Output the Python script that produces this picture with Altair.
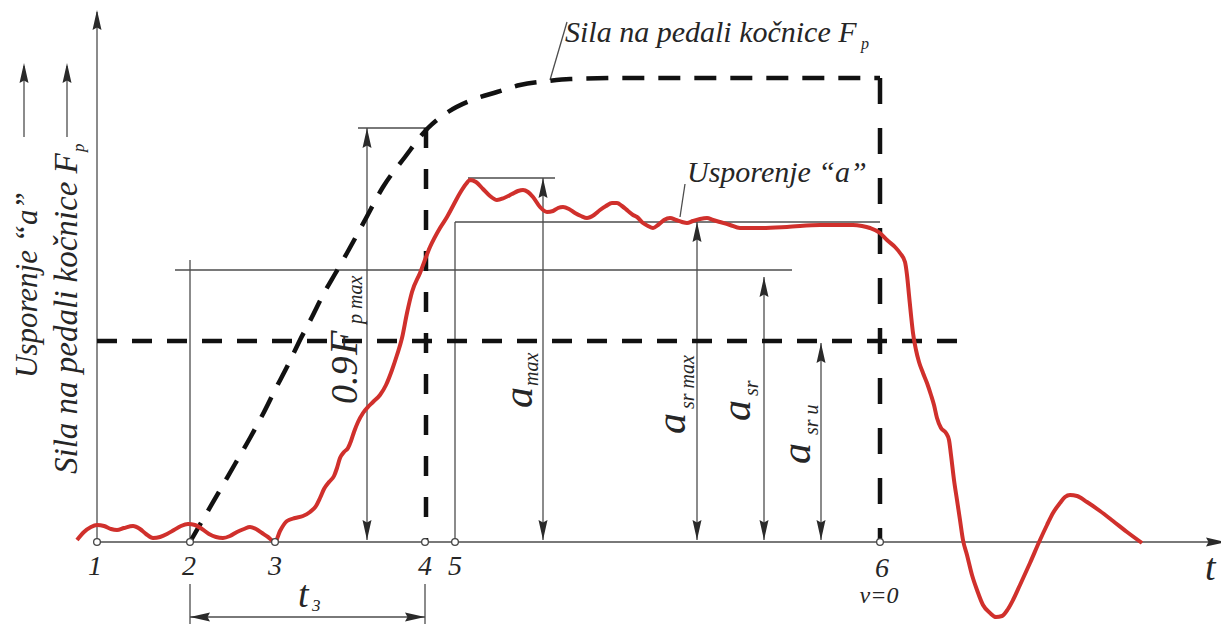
import altair as alt
import pandas as pd

# Figure frame (positions; y grows downward)
X_DOMAIN = [8, 1221]
Y_DOMAIN = [8, 624]

# ---- red curve: deceleration "a" ----
red_x = [77, 84, 91, 97, 104, 111, 117, 124, 133, 140, 146, 153, 160, 167, 174, 181, 188, 195, 202, 209,
         216, 223, 230, 237, 244, 250, 256, 262, 268, 275,
         280, 287, 295, 303, 310, 316, 320, 324, 329, 334, 337, 340, 344, 348, 351, 354, 358, 363, 368, 373,
         380, 386, 392, 397, 402, 407, 412, 420, 430, 440, 447, 454, 460, 466, 470,
         476, 483, 490, 497, 504, 512, 518, 523, 528, 533, 540, 547, 553, 558, 563, 569, 575, 581, 587, 594,
         600, 606, 612, 617, 622, 628, 633, 637, 643, 648, 653, 658, 664, 670, 676, 682, 687, 693, 700, 707,
         713, 720, 730, 740, 760, 787, 820, 853, 862, 870, 880, 887, 895, 900,
         905, 907, 909, 911, 913, 916, 919, 923, 927, 931, 934, 937, 941, 946, 949, 951, 954, 957, 960, 963,
         967, 972, 977, 983, 990, 996, 1002, 1008, 1013, 1020, 1030, 1040, 1047, 1053, 1060, 1065, 1070, 1077,
         1087, 1100, 1113, 1127, 1142]
red_y = [540, 532, 527, 525, 526, 529, 530, 528, 526, 529, 534, 538, 537, 534, 530, 526, 524, 525, 529, 534,
         537, 538, 536, 532, 529, 527, 529, 533, 537, 542,
         531, 521, 518, 516, 512, 506, 498, 489, 482, 476, 468, 458, 452, 448, 441, 432, 422, 413, 407, 402,
         395, 385, 370, 355, 338, 313, 292, 273, 247, 228, 217, 204, 193, 184, 180,
         182, 189, 196, 200, 198, 194, 191, 190, 192, 197, 207, 212, 211, 208, 207, 209, 213, 216, 218, 215,
         210, 206, 203, 203, 206, 211, 215, 217, 223, 226, 228, 225, 220, 218, 220, 222, 223, 221, 219, 218,
         220, 222, 225, 228, 228, 227, 225, 225, 226, 228, 233, 240, 247, 253,
         262, 275, 295, 315, 333, 350, 362, 373, 383, 395, 405, 418, 428, 433, 440, 455, 480, 500, 520, 540,
         555, 575, 590, 605, 613, 617, 616, 609, 600, 585, 563, 540, 525, 513, 503, 497, 495, 496,
         502, 511, 521, 532, 543]

# ---- dashed curve: pedal force Fp ----
fp_x = [190, 205, 220, 235, 250, 263, 275, 288, 300, 312, 323, 335, 347, 365, 383, 405, 428,
        448, 472, 497, 520, 548, 570, 620, 700, 800, 880]
fp_y = [542, 516, 490, 464, 438, 414, 390, 365, 340, 317, 295, 274, 253, 220, 187, 157, 128,
        112, 100, 92, 85, 81, 79, 78, 78, 78, 78]

# dashed straight lines: x1, y1, x2, y2
dash_h = [97, 341, 960, 341]          # horizontal dashed level
dash_v4 = [426, 128, 426, 542]        # vertical dashed at point 4
dash_v6 = [880, 78, 880, 542]         # vertical dashed at point 6

# ---- thin construction lines: x1, y1, x2, y2 ----
seg_x1 = [97, 97, 358, 367, 175, 190, 468, 543, 455, 455, 697, 764, 821, 190, 425, 190, 567, 685, 24, 67]
seg_y1 = [542, 542, 128, 128, 270, 260, 178, 178, 222, 222, 222, 277, 343, 584, 584, 617, 22, 184, 137, 137]
seg_x2 = [97, 1222, 428, 367, 792, 190, 555, 543, 880, 455, 697, 764, 821, 190, 425, 425, 550, 680, 24, 67]
seg_y2 = [12, 542, 128, 540, 270, 542, 178, 540, 222, 542, 540, 540, 540, 640, 640, 617, 80, 217, 66, 66]

# ---- arrow heads: tip position and direction ----
arr_x = [97, 1226, 367, 367, 543, 543, 697, 697, 764, 764, 821, 821, 190, 425, 24, 67]
arr_y = [10, 542, 128, 540, 178, 540, 222, 540, 277, 540, 343, 540, 617, 617, 63, 63]
arr_dir = ["up", "right", "up", "down", "up", "down", "up", "down", "up", "down", "up", "down",
           "left", "right", "up", "up"]
ARROW_PATHS = {
    "up": "M0,0L0.45,2L0,1.75L-0.45,2Z",
    "down": "M0,0L0.45,-2L0,-1.75L-0.45,-2Z",
    "right": "M0,0L-2,0.45L-1.75,0L-2,-0.45Z",
    "left": "M0,0L2,0.45L1.75,0L2,-0.45Z",
}

# ---- points on the time axis ----
pt_x = [97, 190, 275, 425, 455, 880]
pt_y = [542, 542, 542, 542, 542, 542]

# ---- all texts: label, x, y (baseline), font size, angle, alignment ----
txt = ["1", "2", "3", "4", "5", "6", "v=0",
       "Sila na pedali kočnice F", "p", "Usporenje “a”", "t", "3", "t",
       "Usporenje “a”", "Sila na pedali kočnice F", "p",
       "0.9", "F", "p max",
       "a", "max", "a", "sr max", "a", "sr", "a", "sr u"]
txt_x = [95, 189, 275, 425, 455, 882, 879,
         565, 861, 687, 298, 312, 1205,
         37, 77, 84,
         357, 357, 362,
         532, 538, 685, 694, 750, 758, 810, 818]
txt_y = [575, 575, 575, 575, 575, 577, 603,
         42, 49, 182, 607, 611, 580,
         378, 474, 152,
         404, 355, 324,
         408, 386, 434, 409, 421, 396, 464, 435]
txt_size = [28, 28, 28, 28, 28, 28, 24,
            30, 16, 30, 38, 17, 38,
            31, 33, 17,
            38, 40, 20,
            42, 20, 42, 20, 42, 20, 42, 20]
txt_angle = [0, 0, 0, 0, 0, 0, 0,
             0, 0, 0, 0, 0, 0,
             270, 270, 270,
             270, 270, 270,
             270, 270, 270, 270, 270, 270, 270, 270]
txt_align = ["center"] * 7 + ["left"] * 20

# ================= build frames =================
red_df = pd.DataFrame({"x": red_x, "y": red_y, "i": range(len(red_x))})
fp_df = pd.DataFrame({"x": fp_x, "y": fp_y, "i": range(len(fp_x))})
seg_df = pd.DataFrame({"x": seg_x1, "y": seg_y1, "x2": seg_x2, "y2": seg_y2})
arr_df = pd.DataFrame({"x": arr_x, "y": arr_y, "path": [ARROW_PATHS[d] for d in arr_dir]})
pt_df = pd.DataFrame({"x": pt_x, "y": pt_y})
txt_df = pd.DataFrame({"x": txt_x, "y": txt_y, "text": txt, "size": txt_size,
                       "angle": txt_angle, "align": txt_align})


def seg_frame(s):
    return pd.DataFrame({"x": [s[0]], "y": [s[1]], "x2": [s[2]], "y2": [s[3]]})


X = alt.X("x:Q", scale=alt.Scale(domain=X_DOMAIN, nice=False, zero=False), axis=None)
Y = alt.Y("y:Q", scale=alt.Scale(domain=Y_DOMAIN, nice=False, zero=False, reverse=True), axis=None)
X2 = alt.X2("x2:Q")
Y2 = alt.Y2("y2:Q")

FONT = "Liberation Serif"
INK = "#262626"

thin = alt.Chart(seg_df).mark_rule(color="#4d4d4d", strokeWidth=1.3).encode(x=X, y=Y, x2=X2, y2=Y2)

dash_layers = []
for s, pat in [(dash_h, [20, 15]), (dash_v4, [20, 21]), (dash_v6, [26, 24])]:
    dash_layers.append(
        alt.Chart(seg_frame(s)).mark_rule(color="#111111", strokeWidth=4.5, strokeDash=pat,
                                          strokeCap="butt").encode(x=X, y=Y, x2=X2, y2=Y2)
    )

fp_line = alt.Chart(fp_df).mark_line(color="#111111", strokeWidth=4.5, strokeDash=[22, 14],
                                     interpolate="monotone", strokeCap="butt").encode(
    x=X, y=Y, order="i:Q")

red_line = alt.Chart(red_df).mark_line(color="#d0302c", strokeWidth=4,
                                       interpolate="monotone").encode(x=X, y=Y, order="i:Q")

points = alt.Chart(pt_df).mark_point(shape="circle", filled=True, fill="white", stroke="#444444",
                                     strokeWidth=1.3, size=45, opacity=1).encode(x=X, y=Y)

arrows = alt.Chart(arr_df).mark_point(filled=True, color="#2a2a2a", size=400, opacity=1,
                                      strokeWidth=0).encode(
    x=X, y=Y, shape=alt.Shape("path:N", scale=None))

# one text layer per (size, angle, align) group, with the font set directly on the mark
text_layers = []
for (sz, ang, al), grp in txt_df.groupby(["size", "angle", "align"]):
    text_layers.append(
        alt.Chart(grp[["x", "y", "text"]]).mark_text(
            align=al, baseline="alphabetic", font=FONT, fontStyle="italic",
            fontSize=int(sz), angle=int(ang), color=INK,
        ).encode(x=X, y=Y, text="text:N")
    )

chart = alt.layer(thin, *dash_layers, fp_line, red_line, points, arrows, *text_layers).properties(
    width=1213, height=616, autosize=alt.AutoSizeParams(type="none"), padding=0,
    background="white",
).configure_view(stroke=None).configure_text(font=FONT, fontStyle="italic")

chart.save("out.html", embed_options={"renderer": "svg", "actions": False})
